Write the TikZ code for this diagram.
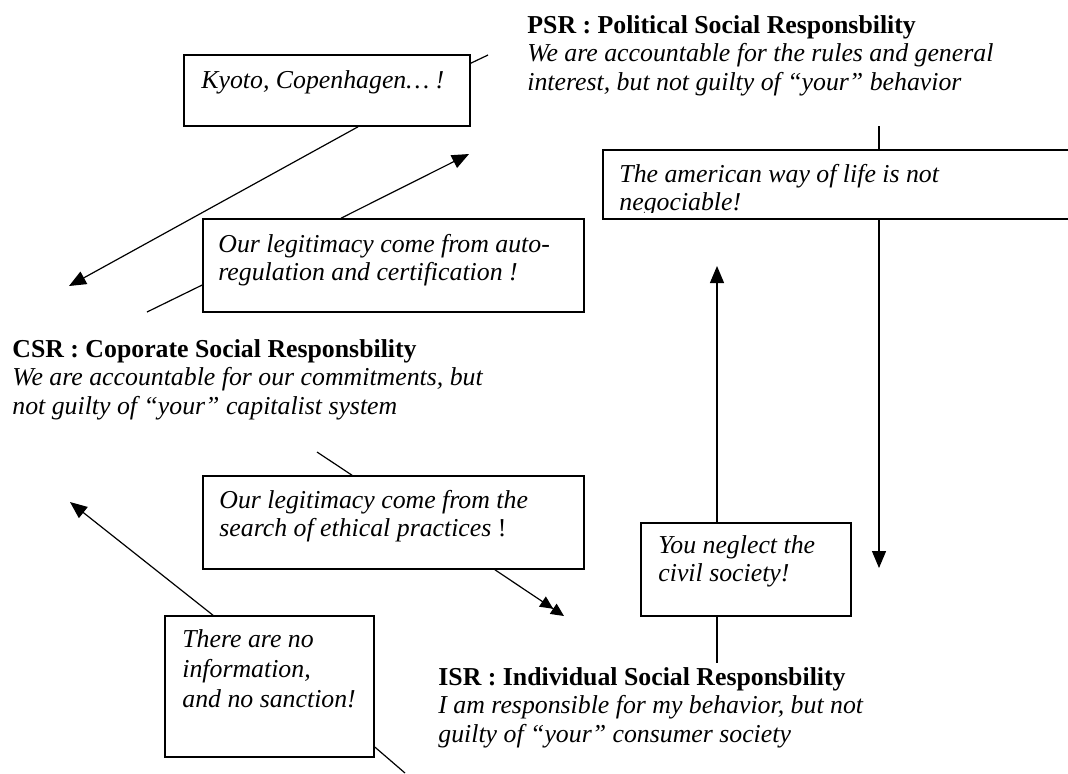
\documentclass[tikz,border=0pt]{standalone}
\usepackage{fontspec}
\setmainfont{Liberation Serif}
\usetikzlibrary{arrows.meta,fit}
\newcommand\diagfont{\fontsize{12.9}{14.2}\selectfont}
\newcommand\firstln{\rule{0pt}{10pt}}
\begin{document}
\begin{tikzpicture}[x=0.5pt,y=-0.5pt,
  box/.style={draw, line width=0.8pt, rectangle, inner sep=0pt},
  txt/.style={anchor=north west, inner sep=0pt, align=left, font=\diagfont\itshape},
  conn/.style={line width=0.6pt},
  arr/.style={conn, -{Triangle[length=8.5pt,width=7pt]}},
  darr/.style={conn, -{Triangle[length=6.5pt,width=6pt]Triangle[length=6.5pt,width=6pt]}}]
\useasboundingbox (0,0) rectangle (1068,773);
\clip (0,0) rectangle (1068,773);

% ---- text blocks ----
\node[txt] (psr) at (527,13) {\firstln\textbf{\textup{PSR : Political Social Responsbility}}\\
  We are accountable for the rules and general\\
  interest, but not guilty of “your” behavior};
\node[txt] (csr) at (12,337) {\firstln\textbf{\textup{CSR : Coporate Social Responsbility}}\\
  We are accountable for our commitments, but\\
  not guilty of “your” capitalist system};
\node[txt] (isr) at (438,665) {\firstln\textbf{\textup{ISR : Individual Social Responsbility}}\\
  I am responsible for my behavior, but not\\
  guilty of “your” consumer society};

% ---- boxes ----
\path (184,55) coordinate (k1) (470,126) coordinate (k2)
      (203,219) coordinate (a1) (584,312) coordinate (a2)
      (203,476) coordinate (e1) (584,569) coordinate (e2)
      (603,150) coordinate (m1) (1155,219) coordinate (m2)
      (641,523) coordinate (c1) (851,616) coordinate (c2)
      (165,616) coordinate (n1) (374,757) coordinate (n2);
\node[box, fit=(k1)(k2)] (kyoto) {};
\node[box, fit=(a1)(a2)] (auto) {};
\node[box, fit=(e1)(e2)] (ethic) {};
\node[box, fit=(m1)(m2)] (amer) {};
\node[box, fit=(c1)(c2)] (civil) {};
\node[box, fit=(n1)(n2)] (noinfo) {};

% ---- box texts ----
\node[txt] (kyototext) at (201,68) {\firstln Kyoto, Copenhagen… !};
\node[txt] (autotext) at (218,232) {\firstln Our legitimacy come from auto-\\regulation and certification !};
\node[txt] (ethictext) at (219,488) {\firstln Our legitimacy come from the\\search of ethical practices \textup{!}};
\begin{scope}
  \clip (amer.north west) rectangle ([yshift=3.5pt]amer.south east);
  \node[txt] (amertext) at (619,162) {\firstln The american way of life is not\\negociable!};
\end{scope}
\node[txt] (civiltext) at (658,533) {\firstln You neglect the\\civil society!};
\node[txt, font=\fontsize{12.9}{15}\selectfont\itshape] (noinfotext) at (182,627) {\firstln There are no\\information,\\and no sanction!};

% ---- free ends ----
\coordinate (psrA) at (488,55);
\coordinate (csrA) at (69,286);
\coordinate (csrB) at (147,312);
\coordinate (psrB) at (469,154);
\coordinate (csrC) at (317,452);
\coordinate (isrA) at (564,616);
\coordinate (csrD) at (70,502);
\coordinate (isrB) at (405,773);
\coordinate (psrC) at (879,126);
\coordinate (isrC) at (879,568);
\coordinate (psrD) at (717,266);
\coordinate (isrD) at (717,663);

% ---- connectors ----
\draw[conn] ([yshift=-4.5pt]kyoto.north east) -- (psrA);
\draw[arr] ([xshift=15.5pt]kyoto.south) -- (csrA);
\draw[conn] (csrB) -- ([yshift=-9.75pt]auto.west);
\draw[arr] ([xshift=-26.25pt]auto.north) -- (psrB);
\draw[conn] (csrC) -- ([xshift=-20.75pt]ethic.north);
\draw[darr] ([xshift=50.75pt]ethic.south) -- (isrA);
\draw[arr] ([xshift=-28.25pt]noinfo.north) -- (csrD);
\draw[conn] ([yshift=-30.25pt]noinfo.east) -- (isrB);
\draw[conn] (psrC) -- (amer.north);
\draw[arr] (amer.south) -- (isrC);
\draw[arr] ([xshift=-14.5pt]civil.north) -- (psrD);
\draw[conn] ([xshift=-14.5pt]civil.south) -- (isrD);
\end{tikzpicture}
\end{document}
